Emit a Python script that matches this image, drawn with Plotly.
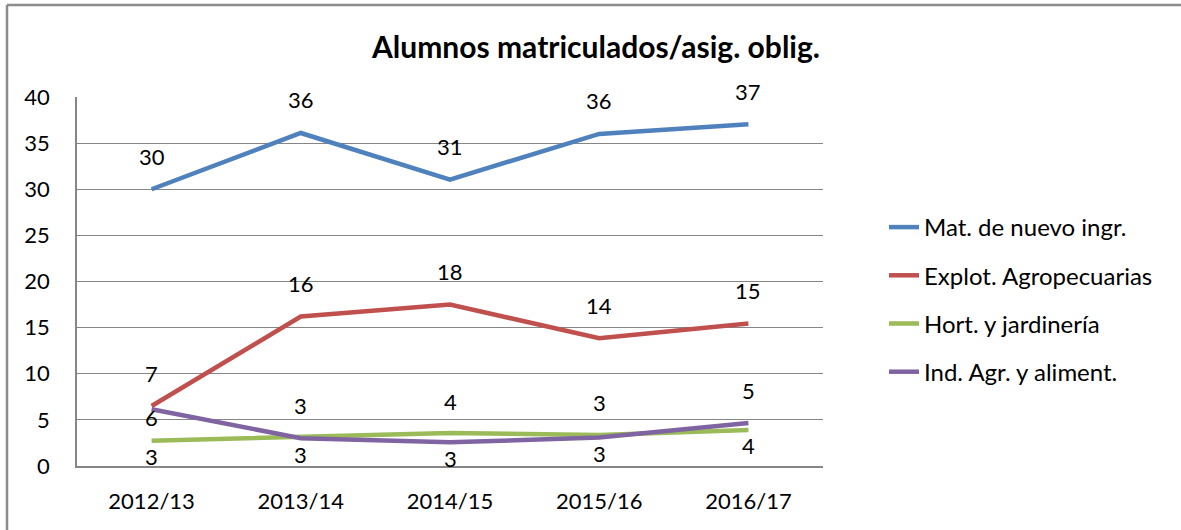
import plotly.graph_objects as go
import math

categories = ["2012/13", "2013/14", "2014/15", "2015/16", "2016/17"]
series_names = ["Mat. de nuevo ingr.", "Explot. Agropecuarias", "Hort. y jardinería", "Ind. Agr. y aliment."]
mat_nuevo = [30.0, 36.1, 31.05, 36.0, 37.05]
explot_agro = [6.5, 16.2, 17.5, 13.85, 15.45]
hort_jard = [2.74, 3.14, 3.57, 3.37, 3.91]
ind_agr = [6.16, 3.01, 2.57, 3.08, 4.67]
y_ticks = [0, 5, 10, 15, 20, 25, 30, 35, 40]

colors = ["#4F81BD", "#C0504D", "#9BBB59", "#8064A2"]
all_vals = [mat_nuevo, explot_agro, hort_jard, ind_agr]

FONT = "Lato"
LABEL_SIZE = 22
fig = go.Figure()
for name, vals, col in zip(series_names, all_vals, colors):
    fig.add_trace(go.Scatter(x=categories, y=vals, mode="lines", name=name,
                             line=dict(color=col, width=4.5), legendgroup=name))

def fmt(v):
    return str(int(math.floor(v + 0.5)))

annotations = []
for vals in (mat_nuevo, explot_agro):
    for c, v in zip(categories, vals):
        annotations.append(dict(x=c, y=v, text=fmt(v), showarrow=False, yshift=33,
                                font=dict(family=FONT, size=LABEL_SIZE, color="#000")))
for i, c in enumerate(categories):
    g, p = hort_jard[i], ind_agr[i]
    for v, other in ((g, p), (p, g)):
        if v >= other:
            shift = 32
            if i == 0:
                shift = -8
        else:
            shift = -16
        annotations.append(dict(x=c, y=v, text=fmt(v), showarrow=False, yshift=shift,
                                font=dict(family=FONT, size=LABEL_SIZE, color="#000")))

W, H = 1181, 530
L, R, T, B = 77, 823, 97, 466
def px2x(px):
    return (px - L) / (R - L)
def py2y(py):
    return (B - py) / (B - T)

border = dict(color="#8C8C8C", width=2.5)
fig.add_shape(type="line", xref="paper", yref="paper",
              x0=px2x(7), x1=px2x(1181), y0=py2y(5), y1=py2y(5), line=border)
fig.add_shape(type="line", xref="paper", yref="paper",
              x0=px2x(7), x1=px2x(7), y0=py2y(5), y1=py2y(530), line=border)

fig.update_layout(
    width=W, height=H,
    margin=dict(l=L, r=W - R, t=T, b=H - B, pad=0),
    paper_bgcolor="white", plot_bgcolor="white",
    font=dict(family=FONT, size=22, color="#000"),
    title=dict(text="<b>Alumnos matriculados/asig. oblig.</b>", x=596 / W, y=1 - 47 / H,
               xref="container", yref="container", xanchor="center", yanchor="middle",
               font=dict(family=FONT, size=30, color="#000")),
    showlegend=True,
    legend=dict(x=px2x(884), y=py2y(205), xanchor="left", yanchor="top",
                font=dict(family=FONT, size=24, color="#000"), tracegroupgap=14,
                bgcolor="rgba(0,0,0,0)"),
    annotations=annotations,
)
fig.update_xaxes(type="category", range=[-0.5, 4.5], showgrid=False, showline=True,
                 linecolor="#868686", linewidth=1.5,
                 ticks="", ticklabelstandoff=15, tickfont=dict(family=FONT, size=22))
fig.update_yaxes(range=[0, 40], tickvals=y_ticks, showgrid=True, gridcolor="#868686", gridwidth=1.2,
                 showline=True, linecolor="#868686", linewidth=1.5, ticks="", zeroline=False,
                 ticklabelstandoff=21, tickfont=dict(family=FONT, size=22))

fig.write_html("out.html", config={"displayModeBar": False},
               post_script="document.body.style.margin='0px';document.body.style.overflow='hidden';")
